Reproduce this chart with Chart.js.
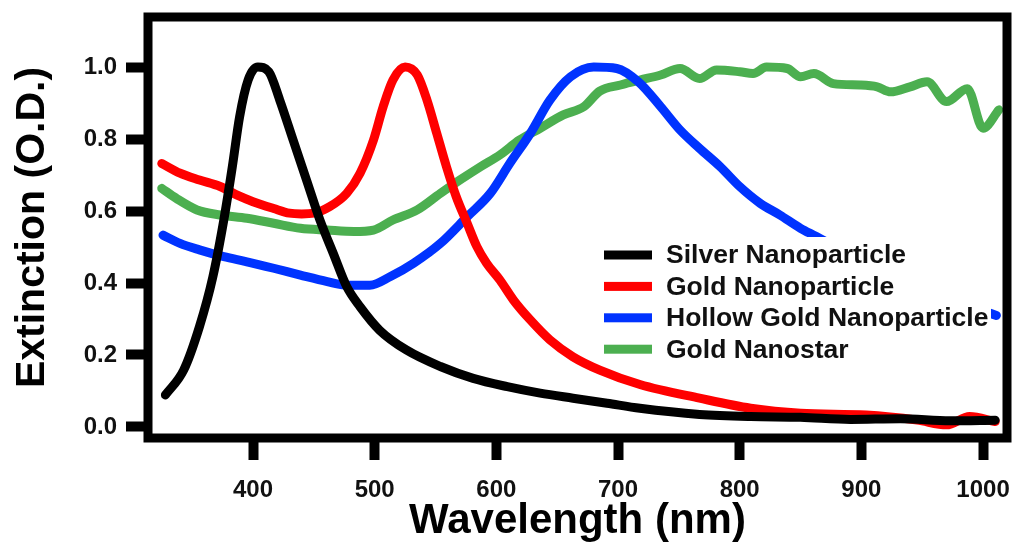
<!DOCTYPE html>
<html>
<head>
<meta charset="utf-8">
<title>Extinction spectra</title>
<script src="https://cdn.jsdelivr.net/npm/chart.js@4.4.1/dist/chart.umd.min.js"></script>
<style>
    html, body { margin: 0; padding: 0; background: #fff; }
    #wrap { width: 1015px; height: 550px; }
</style>
</head>
<body>
<div id="wrap"><canvas id="spectraChart" width="1015" height="550"></canvas></div>
<script>
// tick labels
var xTicks = [400, 500, 600, 700, 800, 900, 1000];
var yTicks = [0, 0.2, 0.4, 0.6, 0.8, 1.0];

// series names and colours (legend order)
var seriesLabels = ['Silver Nanoparticle', 'Gold Nanoparticle', 'Hollow Gold Nanoparticle', 'Gold Nanostar'];
var seriesColors = ['#000000', '#ff0000', '#0033ff', '#4caf50'];

// Silver nanoparticle
var silverNm = [328, 343, 356, 367, 376, 383, 389, 396, 404, 413, 422, 433, 444, 455, 466, 477, 488, 504, 526, 554, 581, 609, 636, 663, 691, 718, 767, 809, 850, 891, 932, 973, 1010];
var silverOD = [0.089, 0.158, 0.279, 0.417, 0.575, 0.723, 0.862, 0.964, 1.0, 0.987, 0.908, 0.797, 0.686, 0.575, 0.482, 0.390, 0.334, 0.269, 0.214, 0.168, 0.135, 0.112, 0.094, 0.080, 0.066, 0.052, 0.035, 0.029, 0.027, 0.021, 0.023, 0.017, 0.019];

// Gold nanoparticle
var goldNm = [325, 340, 356, 373, 387, 400, 417, 430, 440, 450, 463, 477, 488, 499, 507, 515, 525, 535, 543, 551, 559, 567, 576, 584, 592, 603, 614, 628, 644, 663, 685, 718, 767, 809, 850, 904, 946, 970, 989, 1010];
var goldOD = [0.732, 0.705, 0.686, 0.668, 0.644, 0.626, 0.607, 0.594, 0.592, 0.594, 0.612, 0.649, 0.705, 0.797, 0.890, 0.964, 1.0, 0.978, 0.908, 0.816, 0.723, 0.640, 0.566, 0.501, 0.455, 0.408, 0.353, 0.297, 0.242, 0.195, 0.158, 0.118, 0.080, 0.052, 0.038, 0.033, 0.019, 0.006, 0.029, 0.015];

// Hollow gold nanoparticle
var hollowNm = [326, 340, 356, 376, 395, 417, 439, 461, 477, 496, 513, 532, 554, 576, 595, 611, 628, 644, 661, 680, 699, 717, 735, 751, 767, 784, 800, 817, 833, 850, 863, 900, 950, 1011];
var hollowOD = [0.533, 0.510, 0.492, 0.473, 0.459, 0.441, 0.422, 0.404, 0.394, 0.394, 0.418, 0.455, 0.510, 0.584, 0.649, 0.732, 0.816, 0.908, 0.973, 1.0, 0.996, 0.958, 0.890, 0.825, 0.774, 0.723, 0.668, 0.621, 0.589, 0.552, 0.529, 0.46, 0.38, 0.31];

// Gold nanostar
var starNm = [325, 337, 354, 373, 395, 417, 439, 461, 483, 499, 515, 535, 554, 570, 587, 603, 619, 636, 655, 672, 685, 702, 718, 735, 751, 767, 781, 800, 811, 822, 839, 850, 861, 877, 899, 913, 924, 940, 954, 970, 987, 1000, 1013];
var starOD = [0.663, 0.635, 0.603, 0.589, 0.580, 0.566, 0.552, 0.547, 0.543, 0.547, 0.575, 0.603, 0.649, 0.686, 0.723, 0.756, 0.797, 0.830, 0.867, 0.890, 0.933, 0.950, 0.964, 0.978, 0.996, 0.968, 0.992, 0.987, 0.982, 1.0, 0.996, 0.973, 0.982, 0.954, 0.950, 0.945, 0.931, 0.945, 0.959, 0.904, 0.940, 0.830, 0.881];

var FONT = '"Liberation Sans", Arial, Helvetica, sans-serif';

function toPoints(xs, ys) {
    return xs.map(function (x, i) { return { x: x, y: ys[i] }; });
}

function makeSet(i, xs, ys) {
    return {
        label: seriesLabels[i],
        data: toPoints(xs, ys),
        borderColor: seriesColors[i],
        backgroundColor: seriesColors[i],
        borderWidth: 9,
        borderCapStyle: 'round',
        borderJoinStyle: 'round',
        pointRadius: 0,
        fill: false,
        cubicInterpolationMode: 'monotone'
    };
}

// keep the plot box where it is in the original, whatever the labels need
function noScalePadding(s) {
    s.paddingLeft = 0;
    s.paddingRight = 0;
    s.paddingTop = 0;
    s.paddingBottom = 0;
}

// white legend box inside the plot, drawn over the curves
var legendBoxPlugin = {
    id: 'legendBox',
    afterDatasetsDraw: function (chart) {
        var ctx = chart.ctx;
        ctx.save();
        ctx.fillStyle = '#fff';
        ctx.fillRect(598, 237, 393, 125);
        ctx.font = 'bold 26.5px ' + FONT;
        ctx.textBaseline = 'middle';
        ctx.textAlign = 'left';
        chart.data.datasets.forEach(function (ds, i) {
            var y = 255 + i * 31.4;
            ctx.fillStyle = ds.borderColor;
            ctx.fillRect(604, y - 4.5, 48, 9);
            ctx.fillStyle = '#111';
            ctx.fillText(ds.label, 666, y + 1);
        });
        ctx.restore();
    }
};

// heavy box round the plot area
var framePlugin = {
    id: 'frame',
    afterDraw: function (chart) {
        var a = chart.chartArea, ctx = chart.ctx;
        ctx.save();
        ctx.strokeStyle = '#000';
        ctx.lineWidth = 9;
        ctx.strokeRect(a.left, a.top, a.right - a.left, a.bottom - a.top);
        ctx.restore();
    }
};

window.onload = function () {
    Chart.defaults.font.family = FONT;
    var ctx = document.getElementById('spectraChart').getContext('2d');
    new Chart(ctx, {
        type: 'line',
        data: {
            datasets: [
                makeSet(0, silverNm, silverOD),
                makeSet(1, goldNm, goldOD),
                makeSet(2, hollowNm, hollowOD),
                makeSet(3, starNm, starOD)
            ]
        },
        options: {
            responsive: false,
            devicePixelRatio: 1,
            animation: false,
            layout: { padding: { top: 17, right: 8, left: 0, bottom: 0 } },
            plugins: {
                legend: { display: false },
                tooltip: { enabled: false }
            },
            scales: {
                x: {
                    type: 'linear',
                    min: 313.7,
                    max: 1019.7,
                    afterBuildTicks: function (s) {
                        s.ticks = xTicks.map(function (v) { return { value: v }; });
                    },
                    afterFit: function (s) { s.height = 112; noScalePadding(s); },
                    grid: { drawOnChartArea: false, drawTicks: true, tickLength: 22, tickWidth: 10, tickColor: '#000' },
                    border: { display: false },
                    ticks: {
                        color: '#111',
                        padding: 16,
                        maxRotation: 0,
                        font: { size: 24, weight: 'bold' },
                        callback: function (v) { return String(v); }
                    },
                    title: {
                        display: true,
                        text: 'Wavelength (nm)',
                        color: '#000',
                        font: { size: 42, weight: 'bold' },
                        padding: { top: 0, bottom: 3 }
                    }
                },
                y: {
                    type: 'linear',
                    min: -0.0306,
                    max: 1.139,
                    afterBuildTicks: function (s) {
                        s.ticks = yTicks.map(function (v) { return { value: v }; });
                    },
                    afterFit: function (s) { s.width = 148; noScalePadding(s); },
                    grid: { drawOnChartArea: false, drawTicks: true, tickLength: 22, tickWidth: 10, tickColor: '#000' },
                    border: { display: false },
                    ticks: {
                        color: '#111',
                        padding: 9,
                        font: { size: 24, weight: 'bold' },
                        callback: function (v) { return Number(v).toFixed(1); }
                    },
                    title: {
                        display: true,
                        text: 'Extinction (O.D.)',
                        color: '#000',
                        font: { size: 41, weight: 'bold' },
                        padding: { top: 8, bottom: 0 }
                    }
                }
            }
        },
        plugins: [legendBoxPlugin, framePlugin]
    });
};
</script>
</body>
</html>
